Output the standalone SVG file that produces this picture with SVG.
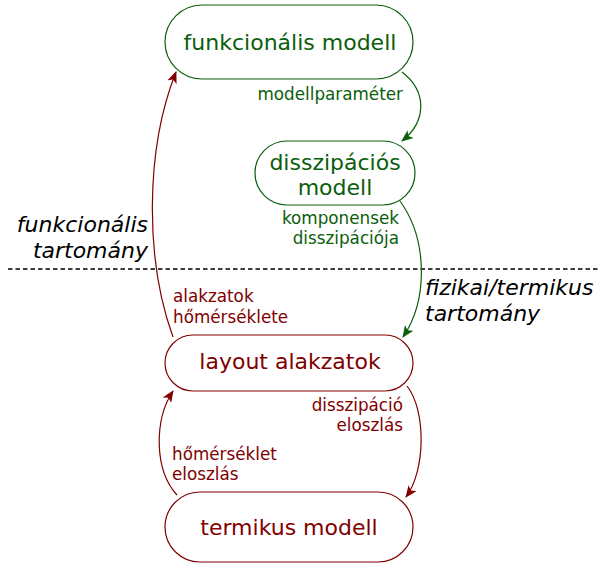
<svg xmlns="http://www.w3.org/2000/svg" width="600" height="564" viewBox="0 0 600 564">
<style>
.g{fill:none;stroke:#0b5e0b;stroke-width:1.2}
.r{fill:none;stroke:#800000;stroke-width:1.2}
.tg{fill:#0b5e0b;font-family:"DejaVu Sans",sans-serif}
.tr{fill:#800000;font-family:"DejaVu Sans",sans-serif}
.big{font-size:22px;text-anchor:middle}
.lbl{font-size:16.8px}
.dom{font-family:"DejaVu Sans",sans-serif;font-style:italic;font-size:22px;fill:#000}
</style>
<defs>
<marker id="ag" markerWidth="12" markerHeight="10" refX="11" refY="5" orient="auto" markerUnits="userSpaceOnUse"><path d="M0,0 L12,5 L0,10 L3,5 z" fill="#0b5e0b"/></marker>
<marker id="ar" markerWidth="12" markerHeight="10" refX="11" refY="5" orient="auto" markerUnits="userSpaceOnUse"><path d="M0,0 L12,5 L0,10 L3,5 z" fill="#800000"/></marker>
</defs>
<line x1="8" y1="269" x2="600" y2="269" stroke="#000" stroke-width="1.6" stroke-dasharray="4.5,3"/>
<text class="dom" text-anchor="end" x="148" y="232">funkcionális</text>
<text class="dom" text-anchor="end" x="148" y="258">tartomány</text>
<text class="dom" x="425" y="295">fizikai/termikus</text>
<text class="dom" x="425" y="321">tartomány</text>
<g id="connectors">
<path class="g" d="M402 72 C428 92,426 122,402 141" marker-end="url(#ag)"/>
<path class="g" d="M400 201 C428 240,428 300,403 337" marker-end="url(#ag)"/>
<path class="r" d="M407 386 C426 410,426 470,406 497" marker-end="url(#ar)"/>
<path class="r" d="M177 495 C154 470,154 420,173 391" marker-end="url(#ar)"/>
<path class="r" d="M173 337 C145 260,145 150,176 72" marker-end="url(#ar)"/>
<text class="tg lbl" text-anchor="end" x="403" y="100">modellparaméter</text>
<text class="tg lbl" text-anchor="end" x="399" y="224">komponensek</text>
<text class="tg lbl" text-anchor="end" x="399" y="244">disszipációja</text>
<text class="tr lbl" x="173" y="302">alakzatok</text>
<text class="tr lbl" x="173" y="323">hőmérséklete</text>
<text class="tr lbl" text-anchor="end" x="403" y="411">disszipáció</text>
<text class="tr lbl" text-anchor="end" x="403" y="431">eloszlás</text>
<text class="tr lbl" x="172" y="460">hőmérséklet</text>
<text class="tr lbl" x="172" y="480">eloszlás</text>
</g>
<g id="funkcionalis-modell">
<rect class="g" x="165" y="5" width="248" height="74" rx="37"/>
<text class="tg big" x="290" y="50">funkcionális modell</text>
</g>
<g id="disszipacios-modell">
<rect class="g" x="255" y="141" width="160" height="64" rx="32"/>
<text class="tg big" x="335" y="170">disszipációs</text>
<text class="tg big" x="335" y="195">modell</text>
</g>
<g id="layout-alakzatok">
<rect class="r" x="165" y="335" width="248" height="56" rx="28"/>
<text class="tr big" x="290" y="369">layout alakzatok</text>
</g>
<g id="termikus-modell">
<rect class="r" x="165" y="492" width="248" height="70" rx="35"/>
<text class="tr big" x="289" y="535">termikus modell</text>
</g>
</svg>
